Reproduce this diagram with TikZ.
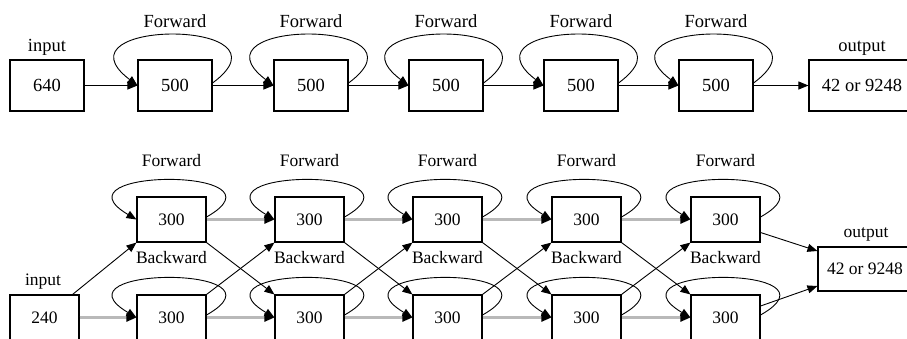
\documentclass[tikz,border=0pt]{standalone}
\usepackage{fontspec}
\setmainfont{Liberation Serif}
\usetikzlibrary{arrows.meta}
\begin{document}
\begin{tikzpicture}[x=1pt,y=-1pt,
  topbox/.style={draw,line width=1.1pt,minimum width=74pt,minimum height=51pt,inner sep=0pt,font=\fontsize{18.5}{20}\selectfont},
  botbox/.style={draw,line width=1.1pt,minimum width=69pt,minimum height=45pt,inner sep=0pt,font=\fontsize{17.5}{19}\selectfont},
  toplbl/.style={anchor=base,inner sep=0pt,font=\fontsize{18.5}{20}\selectfont},
  botlbl/.style={anchor=base,inner sep=0pt,font=\fontsize{17.5}{19}\selectfont},
  edge/.style={line width=0.9pt,-{Triangle[length=10pt,width=8pt,color=black]}},
  grayedge/.style={edge,draw=gray!55,line width=2.2pt},
]
\useasboundingbox (0,0) rectangle (907,338);
\clip (0,0) rectangle (907,338);

% ---------- unidirectional chain ----------
\node[topbox] (i0) at (47,85.5) {640};
\node[toplbl] (i0l) at (47,51) {input};
\foreach \n/\x in {1/175,2/311,3/446,4/581,5/716}{
  \node[topbox] (t\n) at (\x,85.5) {500};
  \node[toplbl] (t\n l) at (\x,27) {Forward};
  \draw[edge] ([yshift=2.5pt]t\n.east) .. controls +(88,-65) and +(-88,-67) .. (t\n.west);
}
\node[topbox,minimum width=106pt] (to) at (862,85.5) {42 or 9248};
\node[toplbl] (tol) at (862,51) {output};

\draw[edge] (i0.east) -- (t1.west);
\foreach \a/\b in {1/2,2/3,3/4,4/5}{
  \draw[edge] (t\a.east) -- (t\b.west);
}
\draw[edge] (t5.east) -- (to.west);

% ---------- bidirectional chain ----------
\node[botbox] (bi) at (44.5,317.5) {240};
\node[botlbl] (bil) at (43,285) {input};
\foreach \n/\x in {1/171.5,2/309.5,3/447.5,4/586.5,5/725.5}{
  \node[botbox] (f\n) at (\x,219.5) {300};
  \node[botbox] (b\n) at (\x,317.5) {300};
  \node[botlbl] (f\n l) at (\x,166.5) {Forward};
  \node[botlbl] (b\n l) at (\x,263) {Backward};
  \draw[edge] ([yshift=2.5pt]f\n.east) .. controls +(88,-50) and +(-88,-52) .. (f\n.west);
  \draw[edge] ([yshift=2.5pt]b\n.east) .. controls +(88,-50) and +(-88,-52) .. (b\n.west);
}
\node[botbox,minimum width=94pt,minimum height=44pt] (bo) at (865,269) {42 or 9248};
\node[botlbl] (bol) at (866,237) {output};

\draw[grayedge] (bi.east) -- (b1.west);
\draw[edge] ([xshift=-7pt]bi.north east) -- (f1.south west);
\foreach \a/\b in {1/2,2/3,3/4,4/5}{
  \draw[grayedge] (f\a.east) -- (f\b.west);
  \draw[grayedge] (b\a.east) -- (b\b.west);
  \draw[edge] (f\a.south east) -- (b\b.north west);
  \draw[edge] (b\a.north east) -- (f\b.south west);
}
\draw[edge] ([yshift=-13pt]f5.east) -- ([yshift=18pt]bo.west);
\draw[edge] ([yshift=11.5pt]b5.east) -- ([yshift=-17pt]bo.west);
\end{tikzpicture}
\end{document}
